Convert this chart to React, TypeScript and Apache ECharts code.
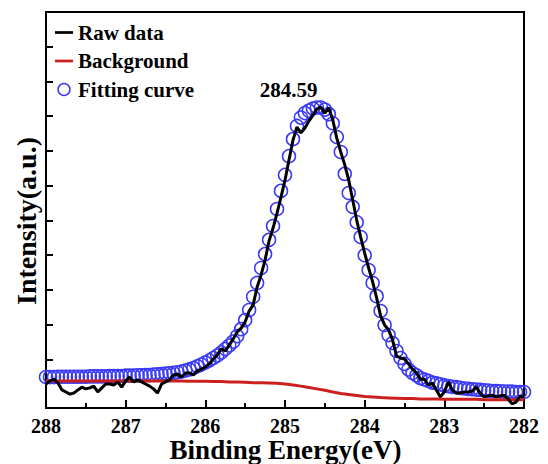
import React, { useEffect, useRef } from 'react';
import * as echarts from 'echarts';

// Binding energies (eV) of the raw data and the fitted curve
const energies = [
  288, 287.95, 287.9, 287.85, 287.8, 287.75, 287.7, 287.65, 287.6, 287.55, 287.5, 287.45, 287.4, 287.35, 287.3,
  287.25, 287.2, 287.15, 287.1, 287.05, 287, 286.95, 286.9, 286.85, 286.8, 286.75, 286.7, 286.65, 286.6, 286.55,
  286.5, 286.45, 286.4, 286.35, 286.3, 286.25, 286.2, 286.15, 286.1, 286.05, 286, 285.95, 285.9, 285.85, 285.8,
  285.75, 285.7, 285.65, 285.6, 285.55, 285.5, 285.45, 285.4, 285.35, 285.3, 285.25, 285.2, 285.15, 285.1, 285.05,
  285, 284.95, 284.9, 284.85, 284.8, 284.75, 284.7, 284.65, 284.6, 284.55, 284.5, 284.45, 284.4, 284.35, 284.3,
  284.25, 284.2, 284.15, 284.1, 284.05, 284, 283.95, 283.9, 283.85, 283.8, 283.75, 283.7, 283.65, 283.6, 283.55,
  283.5, 283.45, 283.4, 283.35, 283.3, 283.25, 283.2, 283.15, 283.1, 283.05, 283, 282.95, 282.9, 282.85, 282.8,
  282.75, 282.7, 282.65, 282.6, 282.55, 282.5, 282.45, 282.4, 282.35, 282.3, 282.25, 282.2, 282.15, 282.1, 282.05,
  282,
];

// Raw data intensity (a.u.)
const rawData = [
  -0.71, -0.62, -0.57, -0.68, -0.88, -0.94, -1.0, -0.97, -0.88, -0.8, -0.85, -0.82, -0.77, -0.94, -0.82,
  -0.71, -0.71, -0.74, -0.65, -0.8, -0.62, -0.51, -0.65, -0.59, -0.65, -0.71, -0.77, -0.85, -0.97, -0.71,
  -0.65, -0.59, -0.45, -0.42, -0.51, -0.39, -0.39, -0.45, -0.33, -0.28, -0.22, -0.13, 0.01, 0.13, 0.3,
  0.24, 0.41, 0.59, 0.79, 0.9, 1.08, 1.39, 1.57, 2.08, 2.43, 2.86, 3.41, 3.78, 4.21, 4.67,
  5.16, 5.74, 6.31, 6.69, 6.52, 6.66, 6.86, 7.03, 7.21, 7.26, 7.09, 7.24, 6.89, 6.37, 5.97,
  5.6, 5.16, 4.59, 4.01, 3.52, 3.06, 2.63, 2.23, 1.77, 1.25, 0.99, 0.85, 0.56, 0.1, 0.04,
  0.01, -0.13, -0.28, -0.39, -0.57, -0.57, -0.74, -0.68, -0.88, -1.08, -0.94, -0.65, -0.88, -0.97, -0.97,
  -0.94, -0.94, -0.91, -0.8, -0.97, -1.08, -1.05, -1.03, -1.08, -1.05, -1.03, -1.14, -1.28, -1.23, -1.05,
  -1.08,
];

// Fitting curve intensity (a.u.)
const fitData = [
  -0.51, -0.51, -0.51, -0.5, -0.5, -0.5, -0.5, -0.5, -0.5, -0.5, -0.5, -0.49, -0.49, -0.49, -0.49,
  -0.49, -0.48, -0.48, -0.48, -0.48, -0.47, -0.47, -0.47, -0.46, -0.46, -0.45, -0.45, -0.44, -0.43, -0.42,
  -0.41, -0.4, -0.39, -0.37, -0.35, -0.32, -0.29, -0.25, -0.2, -0.15, -0.09, -0.03, 0.04, 0.11, 0.2,
  0.3, 0.4, 0.51, 0.67, 0.87, 1.13, 1.42, 1.8, 2.2, 2.63, 3.03, 3.44, 3.84, 4.33, 4.85,
  5.31, 5.85, 6.34, 6.72, 6.96, 7.09, 7.16, 7.22, 7.25, 7.25, 7.19, 7.06, 6.8, 6.4, 5.97,
  5.34, 4.79, 4.39, 3.95, 3.52, 3.0, 2.57, 2.2, 1.82, 1.39, 0.99, 0.7, 0.47, 0.24, 0.04,
  -0.13, -0.29, -0.39, -0.46, -0.54, -0.58, -0.62, -0.67, -0.69, -0.72, -0.75, -0.77, -0.79, -0.8, -0.82,
  -0.84, -0.85, -0.86, -0.87, -0.88, -0.89, -0.9, -0.91, -0.91, -0.92, -0.93, -0.93, -0.93, -0.94, -0.94,
  -0.94,
];

// Shirley background (a.u.), sampled every 0.1 eV
const bgEnergies = [
  288, 287.9, 287.8, 287.7, 287.6, 287.5, 287.4, 287.3, 287.2, 287.1, 287, 286.9, 286.8, 286.7, 286.6,
  286.5, 286.4, 286.3, 286.2, 286.1, 286, 285.9, 285.8, 285.7, 285.6, 285.5, 285.4, 285.3, 285.2, 285.1,
  285, 284.9, 284.8, 284.7, 284.6, 284.5, 284.4, 284.3, 284.2, 284.1, 284, 283.9, 283.8, 283.7, 283.6,
  283.5, 283.4, 283.3, 283.2, 283.1, 283, 282.9, 282.8, 282.7, 282.6, 282.5, 282.4, 282.3, 282.2, 282.1,
  282,
];
const bgData = [
  -0.62, -0.62, -0.62, -0.62, -0.62, -0.62, -0.62, -0.62, -0.62, -0.62, -0.62, -0.62, -0.62, -0.62, -0.62,
  -0.62, -0.62, -0.62, -0.63, -0.63, -0.63, -0.64, -0.64, -0.65, -0.65, -0.66, -0.67, -0.67, -0.68, -0.69,
  -0.71, -0.74, -0.77, -0.81, -0.85, -0.89, -0.94, -0.98, -1.01, -1.04, -1.07, -1.08, -1.1, -1.11, -1.12,
  -1.13, -1.13, -1.14, -1.14, -1.14, -1.15, -1.15, -1.15, -1.15, -1.15, -1.16, -1.16, -1.16, -1.16, -1.16,
  -1.16,
];

const yTickValues = [0, 1, 2, 3, 4, 5, 6, 7, 8, 9, 10];
const peakPosition = [284.59, 7.25];
const peakLabel = '284.59';
const legendNames = ['Raw data', 'Background', 'Fitting curve'];

const FONT = 'Liberation Serif, Tinos, Times New Roman, DejaVu Serif, serif';
const BLUE = '#3a3af5';
const RED = '#cc2020';
const LINE_ICON = 'path://M0,0H20V3H0Z';

export default function App() {
  const ref = useRef<HTMLDivElement>(null);

  useEffect(() => {
    if (!ref.current) return;
    const chart = echarts.init(ref.current, null, { renderer: 'svg' });
    const pair = (xs: number[], ys: number[]) => xs.map((x, i) => [x, ys[i]]);

    chart.setOption({
      animation: false,
      backgroundColor: '#ffffff',
      textStyle: { fontFamily: FONT },
      grid: {
        left: 46,
        right: 24,
        top: 12,
        bottom: 56,
        show: true,
        borderColor: '#000',
        borderWidth: 2,
        backgroundColor: 'transparent',
      },
      legend: {
        data: [
          { name: legendNames[0], icon: LINE_ICON, itemStyle: { color: '#000' } },
          { name: legendNames[1], icon: LINE_ICON, itemStyle: { color: RED } },
          {
            name: legendNames[2],
            icon: 'circle',
            itemStyle: { color: 'rgba(0,0,0,0)', borderColor: BLUE, borderWidth: 1.5 },
          },
        ],
        orient: 'vertical',
        left: 55,
        top: 22,
        padding: 0,
        itemWidth: 18,
        itemHeight: 12,
        itemGap: 7.5,
        symbolKeepAspect: true,
        selectedMode: false,
        textStyle: { fontFamily: FONT, fontWeight: 'bold', fontSize: 21, color: '#000' },
      },
      xAxis: {
        type: 'value',
        min: 282,
        max: 288,
        interval: 1,
        inverse: true,
        axisLine: { show: true, onZero: false, lineStyle: { color: '#000', width: 2 } },
        axisTick: { show: true, inside: true, length: 8, lineStyle: { color: '#000', width: 2 } },
        minorTick: { show: true, splitNumber: 2, length: 5, lineStyle: { color: '#000', width: 2 } },
        axisLabel: {
          show: true,
          margin: 8,
          color: '#000',
          fontFamily: FONT,
          fontWeight: 'bold',
          fontSize: 20,
        },
        splitLine: { show: false },
        minorSplitLine: { show: false },
      },
      yAxis: {
        type: 'value',
        min: -1.4,
        max: 10,
        axisLine: { show: true, onZero: false, lineStyle: { color: '#000', width: 2 } },
        axisTick: {
          show: true,
          inside: true,
          length: 7,
          customValues: yTickValues,
          lineStyle: { color: '#000', width: 2 },
        },
        axisLabel: { show: false },
        splitLine: { show: false },
      },
      graphic: [
        {
          type: 'text',
          x: 285.5,
          y: 450,
          style: {
            text: 'Binding Energy(eV)',
            fontFamily: FONT,
            fontWeight: 'bold',
            fontSize: 27,
            fill: '#000',
            textAlign: 'center',
            textVerticalAlign: 'middle',
          },
        },
        {
          type: 'text',
          x: 26.5,
          y: 221,
          rotation: Math.PI / 2,
          style: {
            text: 'Intensity(a.u.)',
            fontFamily: FONT,
            fontWeight: 'bold',
            fontSize: 28,
            fill: '#000',
            textAlign: 'center',
            textVerticalAlign: 'middle',
          },
        },
      ],
      series: [
        {
          name: legendNames[2],
          type: 'line',
          data: pair(energies, fitData),
          symbol: 'circle',
          symbolSize: 13,
          showSymbol: true,
          showAllSymbol: true,
          lineStyle: { width: 0, opacity: 0 },
          itemStyle: { color: 'rgba(0,0,0,0)', borderColor: BLUE, borderWidth: 1.5 },
          z: 2,
          markPoint: {
            symbol: 'circle',
            symbolSize: 0,
            itemStyle: { color: 'rgba(0,0,0,0)', borderWidth: 0 },
            label: {
              show: true,
              position: 'inside',
              offset: [-29, -18],
              formatter: peakLabel,
              color: '#000',
              fontFamily: FONT,
              fontWeight: 'bold',
              fontSize: 21,
            },
            data: [{ coord: peakPosition }],
          },
        },
        {
          name: legendNames[1],
          type: 'line',
          data: pair(bgEnergies, bgData),
          symbol: 'none',
          showSymbol: false,
          lineStyle: { color: RED, width: 3 },
          itemStyle: { color: RED },
          z: 3,
        },
        {
          name: legendNames[0],
          type: 'line',
          data: pair(energies, rawData),
          symbol: 'none',
          showSymbol: false,
          lineStyle: { color: '#000', width: 3 },
          itemStyle: { color: '#000' },
          z: 4,
        },
      ],
    });

    return () => chart.dispose();
  }, []);

  return (
    <div
      ref={ref}
      style={{ position: 'absolute', left: 0, top: 0, width: 548, height: 464, background: '#fff' }}
    />
  );
}
